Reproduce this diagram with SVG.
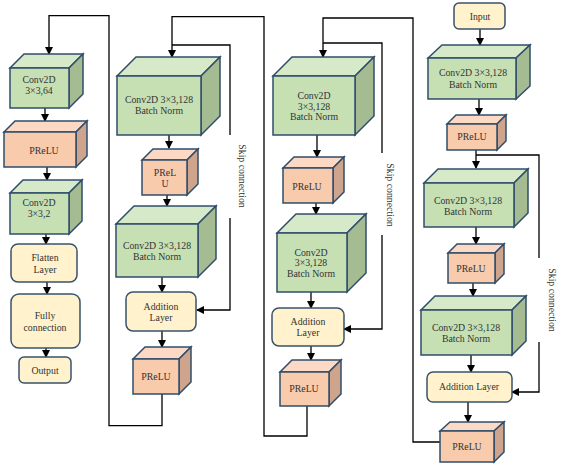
<svg xmlns="http://www.w3.org/2000/svg" width="563" height="467" viewBox="0 0 563 467">
<defs>
<marker id="arr" markerUnits="userSpaceOnUse" markerWidth="8" markerHeight="8" refX="7" refY="4" orient="auto">
<path d="M0,0 L8,4 L0,8 Z" fill="#000"/>
</marker>
<style>
.gf{fill:#c6e0b4;stroke:#2f4d6b;stroke-width:1.5}
.gt{fill:#d6e9c8;stroke:#2f4d6b;stroke-width:1.5}
.gs{fill:#a5bb92;stroke:#2f4d6b;stroke-width:1.5}
.of{fill:#f8cbad;stroke:#2f4d6b;stroke-width:1.5}
.ot{fill:#fbd9c4;stroke:#2f4d6b;stroke-width:1.5}
.os{fill:#cfa48d;stroke:#2f4d6b;stroke-width:1.5}
.yb{fill:#fff2cc;stroke:#3a536b;stroke-width:1.5}
text{font-family:"Liberation Serif","Times New Roman",serif;font-size:9.8px;font-weight:normal;fill:#333;text-anchor:middle}
.ln{fill:none;stroke:#000;stroke-width:1.3}
</style>
</defs>
<g id="connectors">
<path class="ln" d="M162,394 V425.6 H109 V15.7 H49 V54" marker-end="url(#arr)"/>
<path class="ln" d="M45,108 V121" marker-end="url(#arr)"/>
<path class="ln" d="M47,167 V180" marker-end="url(#arr)"/>
<path class="ln" d="M46,234 V244" marker-end="url(#arr)"/>
<path class="ln" d="M47,282 V294" marker-end="url(#arr)"/>
<path class="ln" d="M46,348 V357" marker-end="url(#arr)"/>
<path class="ln" d="M307,406 V436 H264 V16.7 H172 V57" marker-end="url(#arr)"/>
<path class="ln" d="M172,45 H230 V135"/>
<path class="ln" d="M230,218 V310 H197" marker-end="url(#arr)"/>
<path class="ln" d="M169,135 V148" marker-end="url(#arr)"/>
<path class="ln" d="M167,195 V206" marker-end="url(#arr)"/>
<path class="ln" d="M162,277 V292" marker-end="url(#arr)"/>
<path class="ln" d="M162,331 V347" marker-end="url(#arr)"/>
<path class="ln" d="M440,442 H413 V18 H323 V57" marker-end="url(#arr)"/>
<path class="ln" d="M323,43 H382 V153"/>
<path class="ln" d="M382,235 V329 H344" marker-end="url(#arr)"/>
<path class="ln" d="M317,135 V157" marker-end="url(#arr)"/>
<path class="ln" d="M316,203 V214" marker-end="url(#arr)"/>
<path class="ln" d="M311,292 V308" marker-end="url(#arr)"/>
<path class="ln" d="M311,346 V360" marker-end="url(#arr)"/>
<path class="ln" d="M480,29 V45" marker-end="url(#arr)"/>
<path class="ln" d="M479,99 V115" marker-end="url(#arr)"/>
<path class="ln" d="M476,150 V168" marker-end="url(#arr)"/>
<path class="ln" d="M476,155 H539 V258"/>
<path class="ln" d="M539,342 V392 H512" marker-end="url(#arr)"/>
<path class="ln" d="M476,227 V244" marker-end="url(#arr)"/>
<path class="ln" d="M473,283 V296" marker-end="url(#arr)"/>
<path class="ln" d="M471,355 V372" marker-end="url(#arr)"/>
<path class="ln" d="M468,402 V422" marker-end="url(#arr)"/>
<text transform="translate(242,176) rotate(90)" dy="3.5">Skip connection</text>
<text transform="translate(390,195) rotate(90)" dy="3.5">Skip connection</text>
<text transform="translate(552,300) rotate(90)" dy="3.5">Skip connection</text>
</g>
<!-- column 1 -->
<g id="c1_conv1">
<polygon class="gt" points="10,68 24,54 83,54 69,68"/>
<polygon class="gs" points="69,68 83,54 83,94 69,108"/>
<rect class="gf" x="10" y="68" width="59" height="40"/>
<text x="39" y="83">Conv2D</text><text x="39" y="94">3×3,64</text>
</g>
<g id="c1_prelu">
<polygon class="ot" points="4,132 15,121 87,121 76,132"/>
<polygon class="os" points="76,132 87,121 87,156 76,167"/>
<rect class="of" x="4" y="132" width="72" height="35"/>
<text x="44" y="154">PReLU</text>
</g>
<g id="c1_conv2">
<polygon class="gt" points="10,193 23,180 82,180 69,193"/>
<polygon class="gs" points="69,193 82,180 82,221 69,234"/>
<rect class="gf" x="10" y="193" width="59" height="41"/>
<text x="39" y="206">Conv2D</text><text x="39" y="217">3×3,2</text>
</g>
<g id="c1_flatten">
<rect class="yb" x="11" y="244" width="66" height="38" rx="7"/>
<text x="45" y="261">Flatten</text><text x="45" y="273">Layer</text>
</g>
<g id="c1_fc">
<rect class="yb" x="11" y="294" width="69" height="54" rx="8"/>
<text x="45" y="319">Fully</text><text x="45" y="331">connection</text>
</g>
<g id="c1_output">
<rect class="yb" x="19" y="357" width="52" height="26" rx="5"/>
<text x="45" y="374">Output</text>
</g>
<!-- column 2 -->
<g id="c2_conv1">
<polygon class="gt" points="117,76 136,57 220,57 201,76"/>
<polygon class="gs" points="201,76 220,57 220,116 201,135"/>
<rect class="gf" x="117" y="76" width="84" height="59"/>
<text x="159" y="103">Conv2D 3×3,128</text><text x="159" y="114">Batch Norm</text>
</g>
<g id="c2_prelu1">
<polygon class="ot" points="142,160 153,149 198,149 187,160"/>
<polygon class="os" points="187,160 198,149 198,184 187,195"/>
<rect class="of" x="142" y="160" width="45" height="35"/>
<text x="165" y="176">PReL</text><text x="165" y="187">U</text>
</g>
<g id="c2_conv2">
<polygon class="gt" points="116,224 134,206 216,206 198,224"/>
<polygon class="gs" points="198,224 216,206 216,259 198,277"/>
<rect class="gf" x="116" y="224" width="82" height="53"/>
<text x="157" y="249">Conv2D 3×3,128</text><text x="157" y="260">Batch Norm</text>
</g>
<g id="c2_add">
<rect class="yb" x="126" y="292" width="70" height="39" rx="7"/>
<text x="161" y="310">Addition</text><text x="161" y="321">Layer</text>
</g>
<g id="c2_prelu2">
<polygon class="ot" points="133,359 145,347 191,347 179,359"/>
<polygon class="os" points="179,359 191,347 191,382 179,394"/>
<rect class="of" x="133" y="359" width="46" height="35"/>
<text x="156" y="380">PReLU</text>
</g>
<!-- column 3 -->
<g id="c3_conv1">
<polygon class="gt" points="273,76 292,57 374,57 355,76"/>
<polygon class="gs" points="355,76 374,57 374,116 355,135"/>
<rect class="gf" x="273" y="76" width="82" height="59"/>
<text x="314" y="99">Conv2D</text><text x="314" y="110">3×3,128</text><text x="314" y="120">Batch Norm</text>
</g>
<g id="c3_prelu1">
<polygon class="ot" points="283,168 294,157 344,157 333,168"/>
<polygon class="os" points="333,168 344,157 344,192 333,203"/>
<rect class="of" x="283" y="168" width="50" height="35"/>
<text x="307" y="190">PReLU</text>
</g>
<g id="c3_conv2">
<polygon class="gt" points="277,233 296,214 366,214 347,233"/>
<polygon class="gs" points="347,233 366,214 366,273 347,292"/>
<rect class="gf" x="277" y="233" width="70" height="59"/>
<text x="311" y="256">Conv2D</text><text x="311" y="266">3×3,128</text><text x="311" y="277">Batch Norm</text>
</g>
<g id="c3_add">
<rect class="yb" x="272" y="308" width="72" height="38" rx="7"/>
<text x="308" y="325">Addition</text><text x="308" y="336">Layer</text>
</g>
<g id="c3_prelu2">
<polygon class="ot" points="280,372 292,360 341,360 329,372"/>
<polygon class="os" points="329,372 341,360 341,394 329,406"/>
<rect class="of" x="280" y="372" width="49" height="34"/>
<text x="304" y="392">PReLU</text>
</g>
<!-- column 4 -->
<g id="c4_input">
<rect class="yb" x="454" y="3" width="51" height="26" rx="5"/>
<text x="480" y="20">Input</text>
</g>
<g id="c4_conv1">
<polygon class="gt" points="428,58 442,45 530,45 516,58"/>
<polygon class="gs" points="516,58 530,45 530,86 516,99"/>
<rect class="gf" x="428" y="58" width="88" height="41"/>
<text x="473" y="76">Conv2D 3×3,128</text><text x="473" y="88">Batch Norm</text>
</g>
<g id="c4_prelu1">
<polygon class="ot" points="447,124 456,115 506,115 497,124"/>
<polygon class="os" points="497,124 506,115 506,141 497,150"/>
<rect class="of" x="447" y="124" width="50" height="26"/>
<text x="472" y="140">PReLU</text>
</g>
<g id="c4_conv2">
<polygon class="gt" points="424,183 438,169 528,169 514,183"/>
<polygon class="gs" points="514,183 528,169 528,213 514,227"/>
<rect class="gf" x="424" y="183" width="90" height="44"/>
<text x="468" y="204">Conv2D 3×3,128</text><text x="468" y="215">Batch Norm</text>
</g>
<g id="c4_prelu2">
<polygon class="ot" points="448,253 457,244 504,244 495,253"/>
<polygon class="os" points="495,253 504,244 504,274 495,283"/>
<rect class="of" x="448" y="253" width="47" height="30"/>
<text x="471" y="272">PReLU</text>
</g>
<g id="c4_conv3">
<polygon class="gt" points="421,310 435,296 526,296 512,310"/>
<polygon class="gs" points="512,310 526,296 526,341 512,355"/>
<rect class="gf" x="421" y="310" width="91" height="45"/>
<text x="466" y="331">Conv2D 3×3,128</text><text x="466" y="342">Batch Norm</text>
</g>
<g id="c4_add">
<rect class="yb" x="427" y="372" width="85" height="30" rx="6"/>
<text x="469" y="390">Addition Layer</text>
</g>
<g id="c4_prelu3">
<polygon class="ot" points="440,431 450,422 504,422 494,431"/>
<polygon class="os" points="494,431 504,422 504,452 494,462"/>
<rect class="of" x="440" y="431" width="54" height="31"/>
<text x="467" y="450">PReLU</text>
</g>
</svg>
